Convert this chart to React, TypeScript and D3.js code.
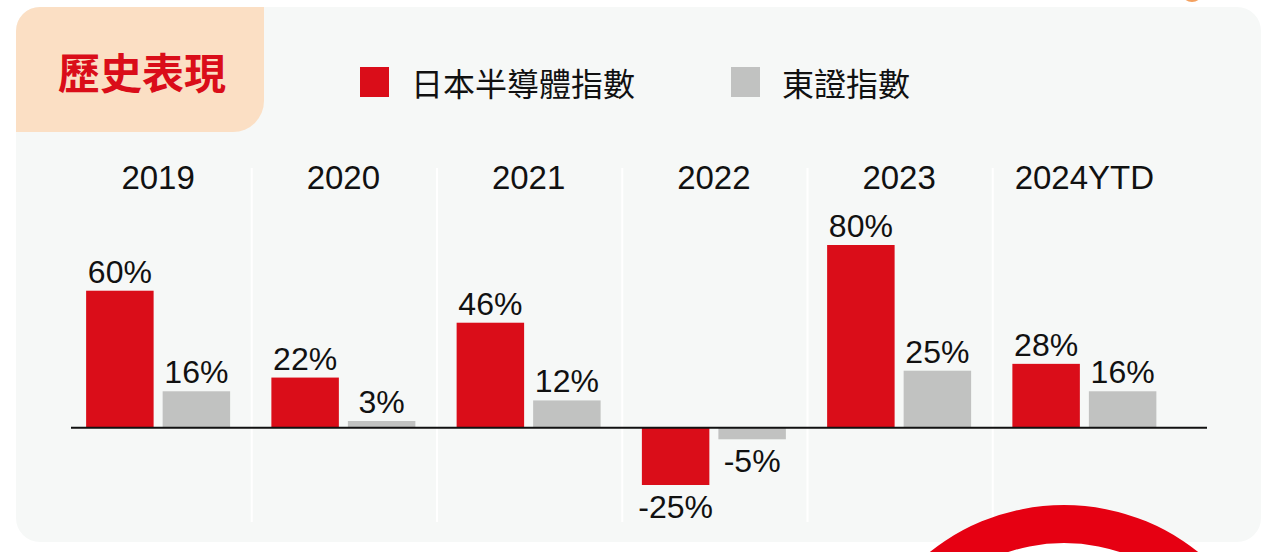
import React, { useEffect, useRef } from "react"
import * as d3 from "d3"

// chart data
const years = ["2019", "2020", "2021", "2022", "2023", "2024YTD"]
const seriesNames = ["日本半導體指數", "東證指數"]
const semiValues = [60, 22, 46, -25, 80, 28]
const topixValues = [16, 3, 12, -5, 25, 16]
const seriesColors = ["#da0d19", "#c1c2c1"]

const W = 1286
const H = 552
const numFont = "'Liberation Sans', Arial, Helvetica, sans-serif"
const cjkFont = "'Noto Sans CJK TC', 'Noto Sans CJK SC', sans-serif"

const drawChart = (wrapper: SVGSVGElement) => {
  const svg = d3.select(wrapper)
  svg.selectAll("*").remove()

  const defs = svg.append("defs")
  const grad = defs
    .append("radialGradient")
    .attr("id", "ringGrad")
    .attr("gradientUnits", "userSpaceOnUse")
    .attr("cx", 1064)
    .attr("cy", 720)
    .attr("r", 215)
  grad.append("stop").attr("offset", 0.82).attr("stop-color", "#7e0006")
  grad.append("stop").attr("offset", 0.87).attr("stop-color", "#b8000e")
  grad.append("stop").attr("offset", 0.93).attr("stop-color", "#e50012")
  grad.append("stop").attr("offset", 1).attr("stop-color", "#e60012")

  svg.append("rect").attr("width", W).attr("height", H).attr("fill", "#ffffff")

  // little orange dot peeking at the top
  svg.append("circle").attr("cx", 1192).attr("cy", -9).attr("r", 11).attr("fill", "#f4a15f")

  // panel
  svg
    .append("rect")
    .attr("x", 16)
    .attr("y", 7)
    .attr("width", 1245)
    .attr("height", 535)
    .attr("rx", 24)
    .attr("fill", "#f6f8f7")

  // title tab: rounded top-left and bottom-right
  const tx0 = 16, ty0 = 7, tx1 = 264, ty1 = 132, r1 = 24, r2 = 31
  svg
    .append("path")
    .attr(
      "d",
      `M${tx0},${ty0 + r1} A${r1},${r1} 0 0 1 ${tx0 + r1},${ty0} L${tx1},${ty0} L${tx1},${ty1 - r2} ` +
        `A${r2},${r2} 0 0 1 ${tx1 - r2},${ty1} L${tx0},${ty1} Z`
    )
    .attr("fill", "#fbdfc4")
  svg
    .append("text")
    .attr("x", 58)
    .attr("y", 70)
    .attr("dominant-baseline", "central")
    .style("font-family", cjkFont)
    .style("font-weight", 700)
    .style("font-size", "42px")
    .attr("fill", "#da0d19")
    .text("歷史表現")

  // legend
  const legendX = [360, 731]
  seriesNames.forEach((name, i) => {
    svg
      .append("rect")
      .attr("x", legendX[i])
      .attr("y", 67)
      .attr("width", 29)
      .attr("height", 30)
      .attr("fill", seriesColors[i])
    svg
      .append("text")
      .attr("x", legendX[i] + 51)
      .attr("y", 82)
      .attr("dominant-baseline", "central")
      .style("font-family", cjkFont)
      .style("font-size", "32px")
      .attr("fill", "#111")
      .text(name)
  })

  // scales
  const x0 = d3.scaleBand().domain(years).range([65.5, 1177])
  const x1 = d3
    .scaleBand()
    .domain(seriesNames)
    .range([x0.bandwidth() / 2 - 72, x0.bandwidth() / 2 + 72])
    .paddingInner(0.118)
  const y = d3.scaleLinear().domain([-25, 80]).range([485, 245])

  // separators between years
  svg
    .selectAll("line.sep")
    .data(years.slice(1))
    .enter()
    .append("line")
    .attr("x1", d => x0(d)! + 1)
    .attr("x2", d => x0(d)! + 1)
    .attr("y1", 168)
    .attr("y2", 522)
    .attr("stroke", "#ffffff")
    .attr("stroke-width", 2)

  // year labels
  svg
    .selectAll("text.year")
    .data(years)
    .enter()
    .append("text")
    .attr("x", d => x0(d)! + x0.bandwidth() / 2)
    .attr("y", 189)
    .attr("text-anchor", "middle")
    .style("font-family", numFont)
    .style("font-size", "33px")
    .attr("fill", "#111")
    .text(d => d)

  const rows = years.flatMap((yr, i) => [
    { yr, s: seriesNames[0], v: semiValues[i], c: seriesColors[0] },
    { yr, s: seriesNames[1], v: topixValues[i], c: seriesColors[1] },
  ])

  const g = svg.append("g")
  g.selectAll("rect.bar")
    .data(rows)
    .enter()
    .append("rect")
    .attr("x", d => x0(d.yr)! + x1(d.s)!)
    .attr("width", x1.bandwidth())
    .attr("y", d => Math.min(y(d.v), y(0)))
    .attr("height", d => Math.abs(y(d.v) - y(0)))
    .attr("fill", d => d.c)

  g.selectAll("text.val")
    .data(rows)
    .enter()
    .append("text")
    .attr("x", d => x0(d.yr)! + x1(d.s)! + x1.bandwidth() / 2)
    .attr("y", d => (d.v >= 0 ? y(d.v) - 8 : y(d.v) + 33))
    .attr("text-anchor", "middle")
    .style("font-family", numFont)
    .style("font-size", "32px")
    .attr("fill", "#111")
    .text(d => d.v + "%")

  // zero line
  svg
    .append("line")
    .attr("x1", 71)
    .attr("x2", 1207)
    .attr("y1", y(0))
    .attr("y2", y(0))
    .attr("stroke", "#111")
    .attr("stroke-width", 2)

  // decorative ring at the bottom
  const ring = d3.arc<any>().innerRadius(177).outerRadius(215).startAngle(0).endAngle(2 * Math.PI)
  svg
    .append("path")
    .attr("transform", "translate(1064,720)")
    .attr("d", ring({}) as string)
    .attr("fill", "url(#ringGrad)")
}

export default function App() {
  const ref = useRef<SVGSVGElement>(null)
  useEffect(() => {
    if (ref.current) drawChart(ref.current)
  }, [])

  return (
    <svg
      ref={ref}
      width={W}
      height={H}
      style={{ position: "absolute", left: 0, top: 0, display: "block" }}
    ></svg>
  )
}
